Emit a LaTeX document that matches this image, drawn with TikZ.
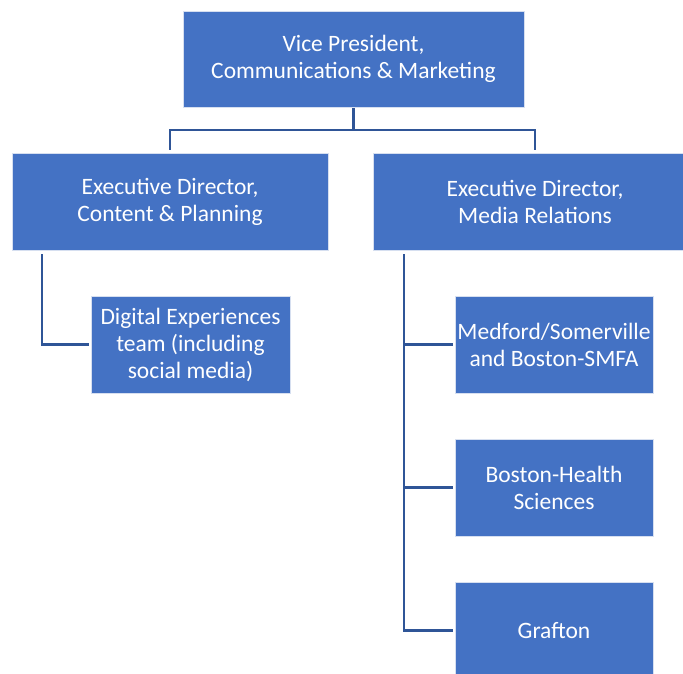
\documentclass[tikz,border=0pt]{standalone}
\usepackage{fontspec}
\setmainfont{Carlito}
\definecolor{boxblue}{HTML}{4472C4}
\definecolor{lineblue}{HTML}{2F5597}
\definecolor{edge}{HTML}{D6DFF0}
\begin{document}
\begin{tikzpicture}[x=1pt,y=-1pt,
  orgbox/.style={draw=edge, line width=0.6pt, fill=boxblue, text=white, align=center,
    font=\fontsize{23.5}{27}\selectfont, inner sep=0pt},
  conn/.style={draw=lineblue, line width=2.5pt}]
\clip (0,0) rectangle (683,673);
\useasboundingbox (0,0) rectangle (683,673);
\node[orgbox, minimum width=341, minimum height=96] (vp) at (353.5,59) {Vice President,\\Communications \& Marketing};
\node[orgbox, minimum width=316, minimum height=97] (cp) at (170,201.5) {Executive Director,\\Content \& Planning};
\node[orgbox, minimum width=324, minimum height=97] (mr) at (535,201.5) {Executive Director,\\Media Relations};
\node[orgbox, minimum width=199, minimum height=97] (de) at (190.5,344.5) {Digital Experiences\\team (including\\social media)};
\node[orgbox, minimum width=198, minimum height=97] (ms) at (554,344.5) {Medford/Somerville\\and Boston-SMFA};
\node[orgbox, minimum width=198, minimum height=97] (bh) at (554,487.5) {Boston-Health\\Sciences};
\node[orgbox, minimum width=198, minimum height=97] (gr) at (554,630.5) {Grafton};
\coordinate (j) at (353.5,130);
\coordinate (lt) at (42,254);
\coordinate (rt) at (404,254);
\draw[conn] ([yshift=-1pt]vp.south) -- (j);
\draw[conn, shorten >=3pt] (j) -| (cp.north);
\draw[conn, shorten >=3pt] (j) -| (mr.north);
\draw[conn, shorten >=2pt] (lt) |- (de.west);
\draw[conn, shorten >=2pt] (rt) |- (ms.west);
\draw[conn, shorten >=2pt] (rt) |- (bh.west);
\draw[conn, shorten >=2pt] (rt) |- (gr.west);
\end{tikzpicture}
\end{document}
